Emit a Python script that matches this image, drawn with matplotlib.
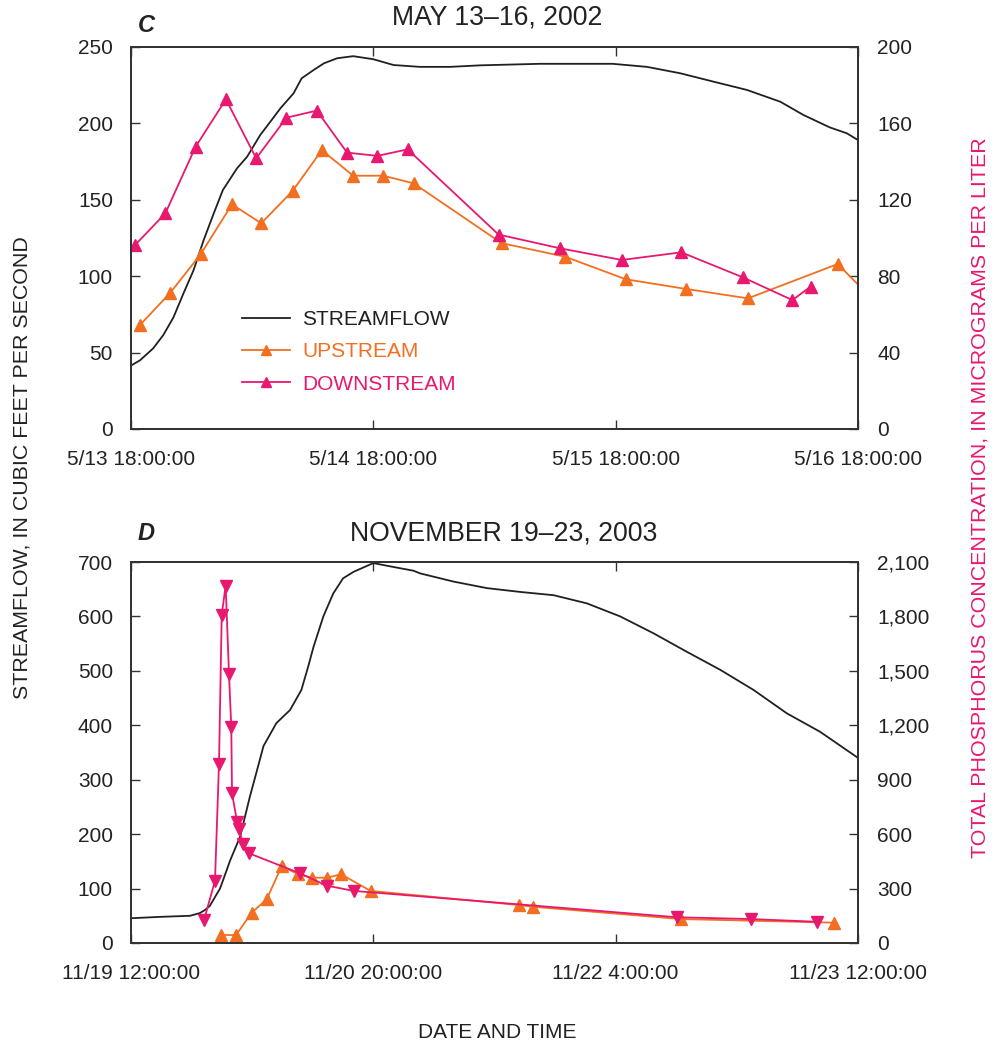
import matplotlib
matplotlib.use('Agg')
import matplotlib.pyplot as plt
from matplotlib.ticker import FuncFormatter

plt.rcParams['font.family'] = ['Liberation Sans', 'DejaVu Sans']

# ---------------- Panel C: May 13-16, 2002 (hours after 5/13 18:00) ----------------
c_flow_hours = [0.0, 0.9, 2.2, 3.2, 4.2, 5.2, 6.2, 7.2, 8.2, 9.1, 10.5, 11.5, 12.8, 13.8,
                14.8, 16.1, 16.9, 18.1, 19.1, 20.4, 22.0, 24.0, 26.0, 28.6, 31.6, 34.6,
                40.5, 47.7, 51.1, 54.4, 57.7, 61.0, 64.3, 66.6, 69.2, 70.9, 72.0]
c_flow_cfs = [41.5, 45, 52.8, 61.5, 73, 88.8, 104, 123.7, 141.2, 156.4, 170.6, 178.2, 192.4, 201.1,
              209.9, 219.7, 229.5, 235, 239.3, 242.6, 244, 242, 238.2, 237, 237, 238,
              239, 239, 237, 232.8, 227.3, 221.9, 214.2, 205.5, 197.4, 193.5, 189.1]
c_up_hours = [0.9, 3.9, 6.9, 10.0, 12.9, 16.0, 18.9, 22.0, 25.0, 28.0, 36.7, 43.0, 49.0, 55.0, 61.1, 70.0, 76.0]
c_up_tp = [54.5, 71.4, 91.5, 117.6, 107.7, 124.6, 146, 132.6, 132.6, 128.6, 97.3, 90.2, 78.4, 73.3, 68.4, 86.4, 54]
c_down_hours = [0.4, 3.4, 6.4, 9.4, 12.4, 15.4, 18.4, 21.4, 24.4, 27.4, 36.4, 42.5, 48.6, 54.5, 60.6, 65.5, 67.3]
c_down_tp = [96.3, 112.9, 147.8, 172.6, 141.7, 163, 166.7, 144.7, 143, 146.4, 101.8, 94.6, 88.5, 92.5, 79.4, 67.5, 74.5]
c_xtick_hours = [0, 24, 48, 72]
c_xtick_labels = ['5/13 18:00:00', '5/14 18:00:00', '5/15 18:00:00', '5/16 18:00:00']
c_flow_ticks = [0, 50, 100, 150, 200, 250]
c_tp_ticks = [0, 40, 80, 120, 160, 200]

# ---------------- Panel D: November 19-23, 2003 (hours after 11/19 12:00) ----------------
d_flow_hours = [0.0, 3.8, 7.8, 9.1, 9.8, 10.4, 11.75, 12.2, 13.1, 14.4, 15.7, 16.5, 17.5, 19.2,
                21.0, 22.5, 23.4, 24.1, 25.4, 26.7, 28.0, 29.4, 32.0, 34.6, 37.3, 38.2, 42.6,
                47.0, 51.4, 55.8, 60.2, 64.6, 69.0, 73.4, 77.8, 82.2, 86.6, 91.0, 95.8, 96.0]
d_flow_cfs = [45.5, 48, 50, 55, 61, 68, 100, 117, 152, 195, 269, 310, 362, 404,
              428, 465, 508, 544, 600, 642, 670, 682, 698, 691, 684, 679, 664,
              652, 645, 639, 624, 600, 569, 535, 502, 465, 422, 388, 342, 340]
d_up_hours = [11.85, 13.87, 15.94, 17.92, 19.9, 22.09, 23.86, 25.92, 27.73, 31.65, 51.27, 53.04, 72.62, 92.87]
d_up_tp = [44, 44, 167, 241, 424, 379, 360, 360, 379, 287, 209, 200, 132, 112]
d_down_hours = [9.64, 11.09, 11.62, 11.98, 12.5, 12.94, 13.24, 13.34, 14.0, 14.3, 14.75, 15.62,
                22.32, 25.84, 29.45, 72.06, 81.83, 90.55]
d_down_tp = [127, 342, 987, 1808, 1970, 1483, 1192, 825, 669, 627, 544, 494,
             384, 316, 287, 142, 132, 117]
d_xtick_hours = [0, 32, 64, 96]
d_xtick_labels = ['11/19 12:00:00', '11/20 20:00:00', '11/22 4:00:00', '11/23 12:00:00']
d_flow_ticks = [0, 100, 200, 300, 400, 500, 600, 700]
d_tp_ticks = [0, 300, 600, 900, 1200, 1500, 1800, 2100]

legend_labels = ['STREAMFLOW', 'UPSTREAM', 'DOWNSTREAM']

BLACK = '#231f20'
ORANGE = '#f26f21'
PINK = '#e8186f'
SPINE = '#333333'
FS = 15

W, H = 995, 1048
fig = plt.figure(figsize=(W / 100, H / 100), dpi=100)


def px_rect(left, top, right, bottom):
    return [left / W, 1 - bottom / H, (right - left) / W, (bottom - top) / H]


def style_axes(ax, axr):
    for a in (ax, axr):
        for s in a.spines.values():
            s.set_color(SPINE)
            s.set_linewidth(1.4)
    ax.tick_params(axis='x', direction='in', top=True, bottom=True, length=6.5, width=1.0,
                   pad=15, labelsize=FS, colors=SPINE, labelcolor='#222222')
    ax.tick_params(axis='y', direction='in', left=True, right=False, length=6.5, width=1.0,
                   pad=13, labelsize=FS, colors=SPINE, labelcolor='#222222')
    axr.tick_params(axis='y', direction='in', left=False, right=True, length=6.5, width=1.0,
                    pad=14, labelsize=FS, colors=SPINE, labelcolor='#222222')


def panel(rect, fh, fq, uh, uc, dh, dc, xt, xl, ft, tt, down_marker):
    ax = fig.add_axes(rect)
    axr = ax.twinx()
    lf, = ax.plot(fh, fq, color=BLACK, lw=1.3, label=legend_labels[0])
    lu, = axr.plot(uh, uc, color=ORANGE, lw=1.3, marker='^', ms=8, mec=ORANGE, mfc=ORANGE,
                   label=legend_labels[1], clip_on=True)
    ld, = axr.plot(dh, dc, color=PINK, lw=1.3, marker=down_marker, ms=8, mec=PINK, mfc=PINK,
                   label=legend_labels[2], clip_on=True)
    ax.set_xlim(xt[0], xt[-1])
    ax.set_xticks(xt)
    ax.set_xticklabels(xl)
    ax.set_ylim(ft[0], ft[-1])
    ax.set_yticks(ft)
    axr.set_ylim(tt[0], tt[-1])
    axr.set_yticks(tt)
    style_axes(ax, axr)
    return ax, axr, (lf, lu, ld)


axC, axCr, hC = panel(px_rect(131, 47, 858, 429), c_flow_hours, c_flow_cfs, c_up_hours, c_up_tp,
                      c_down_hours, c_down_tp, c_xtick_hours, c_xtick_labels,
                      c_flow_ticks, c_tp_ticks, '^')
axD, axDr, hD = panel(px_rect(131, 562, 858, 943), d_flow_hours, d_flow_cfs, d_up_hours, d_up_tp,
                      d_down_hours, d_down_tp, d_xtick_hours, d_xtick_labels,
                      d_flow_ticks, d_tp_ticks, 'v')
axDr.yaxis.set_major_formatter(FuncFormatter(lambda v, p: f'{int(v):,}'))

leg = axCr.legend(handles=list(hC), labels=legend_labels, loc='upper left',
                  bbox_to_anchor=((242 - 131) / 727, (429 - 310) / 382), frameon=False,
                  fontsize=FS, handlelength=2.3, handletextpad=0.6, labelspacing=0.64,
                  borderpad=0, borderaxespad=0, markerscale=0.95, labelcolor='linecolor')

# Panel letters and titles
fig.text(138 / W, 1 - 32 / H, 'C', fontsize=17, fontweight='bold', fontstyle='italic',
         ha='left', va='baseline', color='#222222')
fig.text(497 / W, 1 - 25 / H, 'MAY 13\u201316, 2002', fontsize=19.2, ha='center',
         va='baseline', color='#222222')
fig.text(138 / W, 1 - 540 / H, 'D', fontsize=17, fontweight='bold', fontstyle='italic',
         ha='left', va='baseline', color='#222222')
fig.text(504 / W, 1 - 541 / H, 'NOVEMBER 19\u201323, 2003', fontsize=19.2, ha='center',
         va='baseline', color='#222222')

# Axis labels
fig.text(22 / W, 1 - 468 / H, 'STREAMFLOW, IN CUBIC FEET PER SECOND', fontsize=15.4,
         rotation=90, ha='center', va='center', color='#222222')
fig.text(980 / W, 1 - 498 / H, 'TOTAL PHOSPHORUS CONCENTRATION, IN MICROGRAMS PER LITER',
         fontsize=15.4, rotation=90, ha='center', va='center', color=PINK)
fig.text(497 / W, 1 - 1032 / H, 'DATE AND TIME', fontsize=FS, ha='center', va='center',
         color='#222222')

fig.savefig('out.png', dpi=100)
